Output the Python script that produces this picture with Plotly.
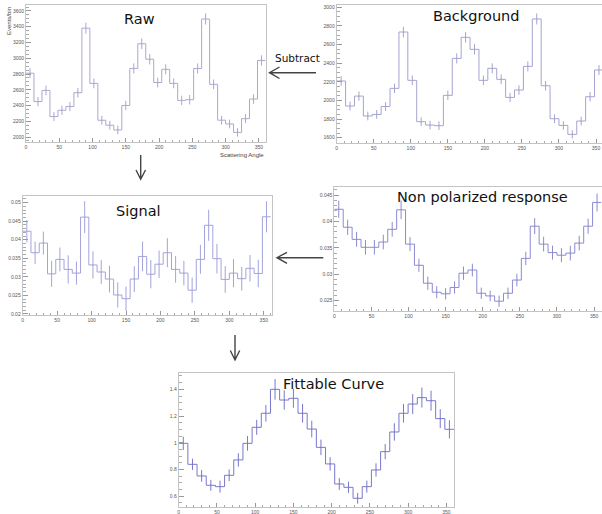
import plotly.graph_objects as go

# ---------------- data ----------------
bin_width = 12
bin_edges = list(range(0, 361, bin_width))
bin_centers = [e + bin_width / 2 for e in bin_edges[:-1]]

raw_counts = [2810, 2450, 2592, 2260, 2340, 2388, 2563, 3382, 2681, 2213,
              2150, 2090, 2401, 2871, 3184, 2988, 2692, 2860, 2681, 2465,
              2474, 2870, 3498, 2669, 2214, 2166, 2059, 2233, 2482, 2972]
raw_err = [64, 59, 61, 57, 58, 59, 61, 70, 62, 56, 56, 55, 59, 64, 68,
           66, 62, 64, 62, 60, 60, 64, 71, 62, 56, 56, 54, 57, 60, 65]

bkg_counts = [2209, 1940, 2047, 1833, 1850, 1935, 2130, 2735, 2216, 1772,
              1736, 1729, 2055, 2452, 2678, 2549, 2216, 2345, 2227, 2033,
              2112, 2366, 2875, 2158, 1804, 1732, 1636, 1779, 2040, 2327]
bkg_err = [52, 48, 50, 47, 47, 48, 51, 57, 52, 46, 46, 46, 50, 54, 57,
           56, 52, 53, 52, 50, 51, 53, 59, 51, 47, 46, 44, 46, 50, 53]

signal_vals = [0.0423, 0.0365, 0.0391, 0.0308, 0.0347, 0.0320, 0.0310, 0.0461, 0.0332, 0.0313,
               0.0294, 0.0251, 0.0241, 0.0294, 0.0355, 0.0307, 0.0334, 0.0365, 0.0320, 0.0310,
               0.0264, 0.0347, 0.0439, 0.0349, 0.0293, 0.0310, 0.0295, 0.0323, 0.0309, 0.0462]
signal_err = [0.0030, 0.0030, 0.0031, 0.0035, 0.0032, 0.0038, 0.0031, 0.0043, 0.0037, 0.0032,
              0.0036, 0.0034, 0.0033, 0.0035, 0.0040, 0.0038, 0.0037, 0.0039, 0.0036, 0.0033,
              0.0034, 0.0039, 0.0042, 0.0040, 0.0036, 0.0038, 0.0032, 0.0036, 0.0037, 0.0042]

nonpol_vals = [0.0423, 0.0389, 0.0366, 0.0351, 0.0351, 0.0361, 0.0385, 0.0422, 0.0357, 0.0317,
               0.0283, 0.0266, 0.0263, 0.0275, 0.0302, 0.0308, 0.0264, 0.0259, 0.0249, 0.0264,
               0.0289, 0.0330, 0.0391, 0.0357, 0.0341, 0.0336, 0.0340, 0.0359, 0.0391, 0.0436]
nonpol_err = [0.00164, 0.00145, 0.00139, 0.00139, 0.00139, 0.00139, 0.00139, 0.00177, 0.00132, 0.00126,
              0.00126, 0.00114, 0.00107, 0.00114, 0.00126, 0.00120, 0.00107, 0.00101, 0.00107, 0.00107,
              0.00120, 0.00126, 0.00151, 0.00139, 0.00132, 0.00132, 0.00139, 0.00139, 0.00145, 0.00170]

fit_vals = [0.996, 0.839, 0.752, 0.682, 0.672, 0.757, 0.872, 0.996, 1.116, 1.221,
            1.400, 1.320, 1.333, 1.221, 1.103, 0.966, 0.842, 0.692, 0.667, 0.585,
            0.672, 0.797, 0.934, 1.081, 1.221, 1.290, 1.338, 1.315, 1.181, 1.101]
fit_err = [0.050, 0.042, 0.044, 0.041, 0.045, 0.044, 0.050, 0.055, 0.056, 0.062,
           0.077, 0.072, 0.071, 0.070, 0.062, 0.058, 0.050, 0.044, 0.042, 0.040,
           0.045, 0.050, 0.057, 0.065, 0.070, 0.075, 0.075, 0.075, 0.071, 0.068]

titles = ["Raw", "Background", "Signal", "Non polarized response", "Fittable Curve"]

# ---------------- figure ----------------
W, H = 602, 514
def px(x):
    return x / W
def py(y):
    return 1 - y / H

panels = [
    dict(v=raw_counts, e=raw_err, c="#a9a9cf", xd=(26, 265.5), yd=(5, 142), xr=(0, 360), yr=(1937, 3676),
         dt=200, mdt=50, tpos=(139, 19)),
    dict(v=bkg_counts, e=bkg_err, c="#a4a4cf", xd=(336.7, 602), yd=(5, 143.3), xr=(0, 358.1), yr=(1540, 3025),
         dt=200, mdt=50, tpos=(476, 16)),
    dict(v=signal_vals, e=signal_err, c="#a3a3dc", xd=(22.7, 271.7), yd=(196, 315), xr=(0, 361.5), yr=(0.0197, 0.0518),
         dt=0.005, mdt=0.001, tpos=(138.5, 210.5)),
    dict(v=nonpol_vals, e=nonpol_err, c="#8b8bd0", xd=(334.3, 601.5), yd=(187.3, 310.7), xr=(0, 360), yr=(0.0231, 0.04646),
         dt=0.005, mdt=0.001, tpos=(482.5, 197.5)),
    dict(v=fit_vals, e=fit_err, c="#7878cc", xd=(178.7, 454), yd=(373.3, 506.7), xr=(0, 360), yr=(0.522, 1.52),
         dt=0.2, mdt=0.05, tpos=(333, 384)),
]

fig = go.Figure()
layout = dict(width=W, height=H, margin=dict(l=0, r=0, t=0, b=0, pad=0),
              paper_bgcolor="white", plot_bgcolor="white", showlegend=False)

tickfont = dict(family="Liberation Sans, Arial, sans-serif", size=5, color="#555555")
annotations = []

for i, p in enumerate(panels):
    n = i + 1
    xa = "x" if n == 1 else f"x{n}"
    ya = "y" if n == 1 else f"y{n}"
    fig.add_trace(go.Scatter(x=bin_edges, y=p["v"] + [p["v"][-1]], mode="lines",
                             line=dict(color=p["c"], width=1, shape="hv"),
                             xaxis=xa, yaxis=ya, hoverinfo="skip"))
    fig.add_trace(go.Scatter(x=bin_centers, y=p["v"], mode="markers",
                             marker=dict(size=1, color=p["c"]),
                             error_y=dict(type="data", array=p["e"], width=0, thickness=1, color=p["c"]),
                             xaxis=xa, yaxis=ya, hoverinfo="skip"))
    xkey = "xaxis" if n == 1 else f"xaxis{n}"
    ykey = "yaxis" if n == 1 else f"yaxis{n}"
    layout[xkey] = dict(domain=[px(p["xd"][0]), min(1.0, px(p["xd"][1]))], range=list(p["xr"]),
                        anchor=ya, showgrid=False, zeroline=False, automargin=False,
                        showline=True, linecolor="#c4c4c4", linewidth=1, mirror=True,
                        ticks="inside", ticklen=4, tickcolor="#999999", tickwidth=1,
                        tick0=0, dtick=50, tickfont=tickfont,
                        minor=dict(ticks="inside", ticklen=2, dtick=10, tickcolor="#aaaaaa", showgrid=False))
    layout[ykey] = dict(domain=[py(p["yd"][1]), py(p["yd"][0])], range=list(p["yr"]),
                        anchor=xa, showgrid=False, zeroline=False, automargin=False,
                        showline=True, linecolor="#c4c4c4", linewidth=1, mirror=True,
                        ticks="inside", ticklen=5, tickcolor="#999999", tickwidth=1,
                        tick0=0, dtick=p["dt"], tickfont=tickfont,
                        minor=dict(ticks="inside", ticklen=3, dtick=p["mdt"], tickcolor="#aaaaaa", showgrid=False))
    annotations.append(dict(text=titles[i], x=px(p["tpos"][0]), y=py(p["tpos"][1]),
                            xref="paper", yref="paper", showarrow=False,
                            xanchor="center", yanchor="middle",
                            font=dict(family="DejaVu Sans, sans-serif", size=14.5, color="#111111")))

smallfont = dict(family="Liberation Sans, Arial, sans-serif", size=6, color="#444444")
annotations.append(dict(text="Events/bin", textangle=-90, x=px(9), y=py(5), xref="paper", yref="paper",
                        xanchor="center", yanchor="top", showarrow=False, font=smallfont))
annotations.append(dict(text="Scattering Angle", x=px(265.7), y=py(154.5), xref="paper", yref="paper",
                        xanchor="right", yanchor="middle", showarrow=False, font=smallfont))
annotations.append(dict(text="Subtract", x=px(297), y=py(58.3), xref="paper", yref="paper",
                        xanchor="center", yanchor="middle", showarrow=False,
                        font=dict(family="DejaVu Sans, sans-serif", size=10.5, color="#111111")))
layout["annotations"] = annotations

# arrows (decoration) as paper-space paths
def arrow_path(x0, y0, x1, y1, a1, a2):
    return (f"M {px(x0)} {py(y0)} L {px(x1)} {py(y1)} "
            f"M {px(a1[0])} {py(a1[1])} L {px(x1)} {py(y1)} L {px(a2[0])} {py(a2[1])}")

arrows = [
    arrow_path(316, 72.7, 269.5, 72.7, (279.5, 67), (279.5, 78.5)),
    arrow_path(140.7, 155, 140.7, 179.3, (136, 170), (145.5, 170)),
    arrow_path(323.3, 257.7, 277, 257.7, (287, 252.3), (287, 263.3)),
    arrow_path(235, 335, 235, 360, (230.3, 350.5), (239.7, 350.5)),
]
layout["shapes"] = [dict(type="path", path=a, xref="paper", yref="paper",
                         line=dict(color="#444444", width=1.4)) for a in arrows]

fig.update_layout(**layout)
fig.write_html("out.html",
               config={"displayModeBar": False},
               post_script="document.body.style.margin='0';document.body.style.overflow='hidden';"
                           "document.documentElement.style.overflow='hidden';")
